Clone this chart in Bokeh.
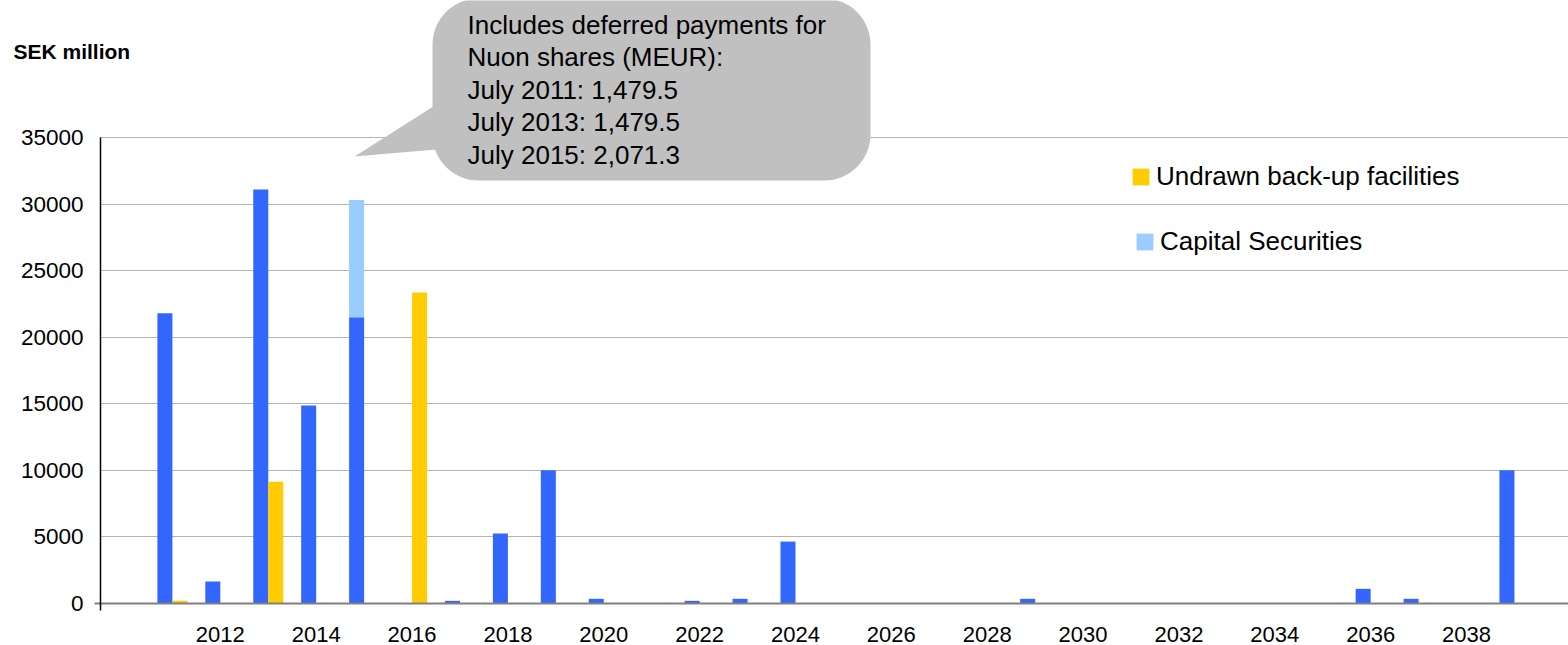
from bokeh.plotting import figure
from bokeh.models import (ColumnDataSource, FixedTicker, Label, BoxAnnotation,
                          Legend, LegendItem, Range1d)
from bokeh.transform import dodge
from bokeh.embed import file_html
from bokeh.resources import INLINE

# ---- data (SEK million) ----
years = list(range(2011, 2040))
debt = [21800, 1650, 31100, 14870, 21500, 0, 200, 5250, 10000, 350,
        0, 200, 350, 4650, 0, 0, 0, 0, 350, 0,
        0, 0, 0, 0, 0, 1100, 350, 0, 10000]
capital_securities = [0, 0, 0, 0, 8800, 0, 0, 0, 0, 0,
                      0, 0, 0, 0, 0, 0, 0, 0, 0, 0,
                      0, 0, 0, 0, 0, 0, 0, 0, 0]
undrawn_backup = [200, 0, 9150, 0, 0, 23350, 0, 0, 0, 0,
                  0, 0, 0, 0, 0, 0, 0, 0, 0, 0,
                  0, 0, 0, 0, 0, 0, 0, 0, 0]
y_ticks = [0, 5000, 10000, 15000, 20000, 25000, 30000, 35000]
x_ticks = list(range(2012, 2040, 2))
callout_lines = ["Includes deferred payments for",
                 "Nuon shares (MEUR):",
                 "July 2011: 1,479.5",
                 "July 2013: 1,479.5",
                 "July 2015: 2,071.3"]
y_unit_label = "SEK million"
legend_labels = ["Undrawn back-up facilities", "Capital Securities"]

FONT = "Liberation Sans"
BLUE, YELLOW, LIGHT = "#3366FF", "#FFCC00", "#99CCFF"

# ---- page-pixel helpers for annotation placement (canvas == frame, at page 0,0) ----
W, H = 1568, 645
PX_PER_YEAR = 47.93
PX_PER_UNIT = 466 / 35000.0
def to_x(px):
    return 2009.5 + (px - 100) / PX_PER_YEAR
def to_y(py):
    return (603 - py) / PX_PER_UNIT

p = figure(width=W, height=H, output_backend="svg", toolbar_location=None,
           x_range=Range1d(to_x(0), to_x(W)), y_range=Range1d(to_y(H), to_y(0)),
           min_border_left=0, min_border_right=0, min_border_top=0, min_border_bottom=0)
p.outline_line_color = None
p.background_fill_color = "white"
p.border_fill_color = "white"

src = ColumnDataSource(dict(year=years, debt=debt, cap=capital_securities,
                            undrawn=undrawn_backup))

# axes drawn at fixed data locations inside the frame
p.yaxis.fixed_location = 2009.5
p.xaxis.fixed_location = 0
p.yaxis.bounds = (to_y(610), 35000)
p.xaxis.bounds = (to_x(94), to_x(W))
p.yaxis.ticker = FixedTicker(ticks=y_ticks)
p.xaxis.ticker = FixedTicker(ticks=x_ticks)
for ax in (p.xaxis, p.yaxis):
    ax.major_tick_line_color = None
    ax.minor_tick_line_color = None
    ax.major_tick_out = 0
    ax.major_tick_in = 0
    ax.minor_tick_out = 0
    ax.major_label_text_font = FONT
    ax.major_label_text_color = "black"
p.yaxis.axis_line_color = "black"
p.yaxis.axis_line_width = 1.5
p.xaxis.axis_line_color = "#808080"
p.xaxis.axis_line_width = 2
p.xaxis.major_label_text_font_size = "22px"
p.yaxis.major_label_text_font_size = "22.5px"
p.yaxis.major_label_standoff = 17
p.xaxis.major_label_standoff = 23
p.xgrid.grid_line_color = None
p.ygrid.grid_line_color = "#b4b4b4"
p.ygrid.grid_line_width = 1
if "cross_bounds" in p.ygrid.properties():
    p.ygrid.cross_bounds = (2009.5, to_x(W))
else:
    p.ygrid.grid_line_color = None
    p.segment(x0=2009.5, x1=to_x(W), y0=y_ticks[1:], y1=y_ticks[1:],
              line_color="#b4b4b4", line_width=1, level="underlay")

bw = 15 / PX_PER_YEAR
stack = p.vbar_stack(["debt", "cap"], x=dodge("year", -bw / 2, range=p.x_range), width=bw,
                     color=[BLUE, LIGHT], line_color=None, source=src)
yel = p.vbar(x=dodge("year", bw / 2, range=p.x_range), top="undrawn", width=bw,
             color=YELLOW, line_color=None, source=src)

# callout
p.patch([to_x(436), to_x(354), to_x(436)], [to_y(104), to_y(156), to_y(149)],
        fill_color="#C0C0C0", line_color=None)
p.add_layout(BoxAnnotation(left=to_x(432), right=to_x(870), top=to_y(-2), bottom=to_y(180),
                           fill_color="#C0C0C0", fill_alpha=1, line_color=None, border_radius=46))
for i, t in enumerate(callout_lines):
    p.add_layout(Label(x=to_x(467), y=to_y(24 + 32.5 * i), text=t, text_font=FONT,
                       text_font_size="26px", text_color="black", text_baseline="alphabetic"))

p.add_layout(Label(x=to_x(13), y=to_y(51), text=y_unit_label, text_font=FONT,
                   text_font_size="21px", text_font_style="bold", text_color="black",
                   text_baseline="middle"))

# legends
for lab, rend, px, py in [(legend_labels[0], yel, 1130, 191.5),
                          (legend_labels[1], stack[1], 1134, 256.5)]:
    lg = Legend(items=[LegendItem(label=lab, renderers=[rend])],
                location=(px, H - py),
                glyph_width=21, glyph_height=21, label_standoff=5, padding=0, margin=0,
                label_text_font=FONT, label_text_font_size="26px", label_text_color="black",
                border_line_color=None, background_fill_alpha=0)
    p.add_layout(lg)

open("out.html", "w").write(file_html(p, INLINE))
